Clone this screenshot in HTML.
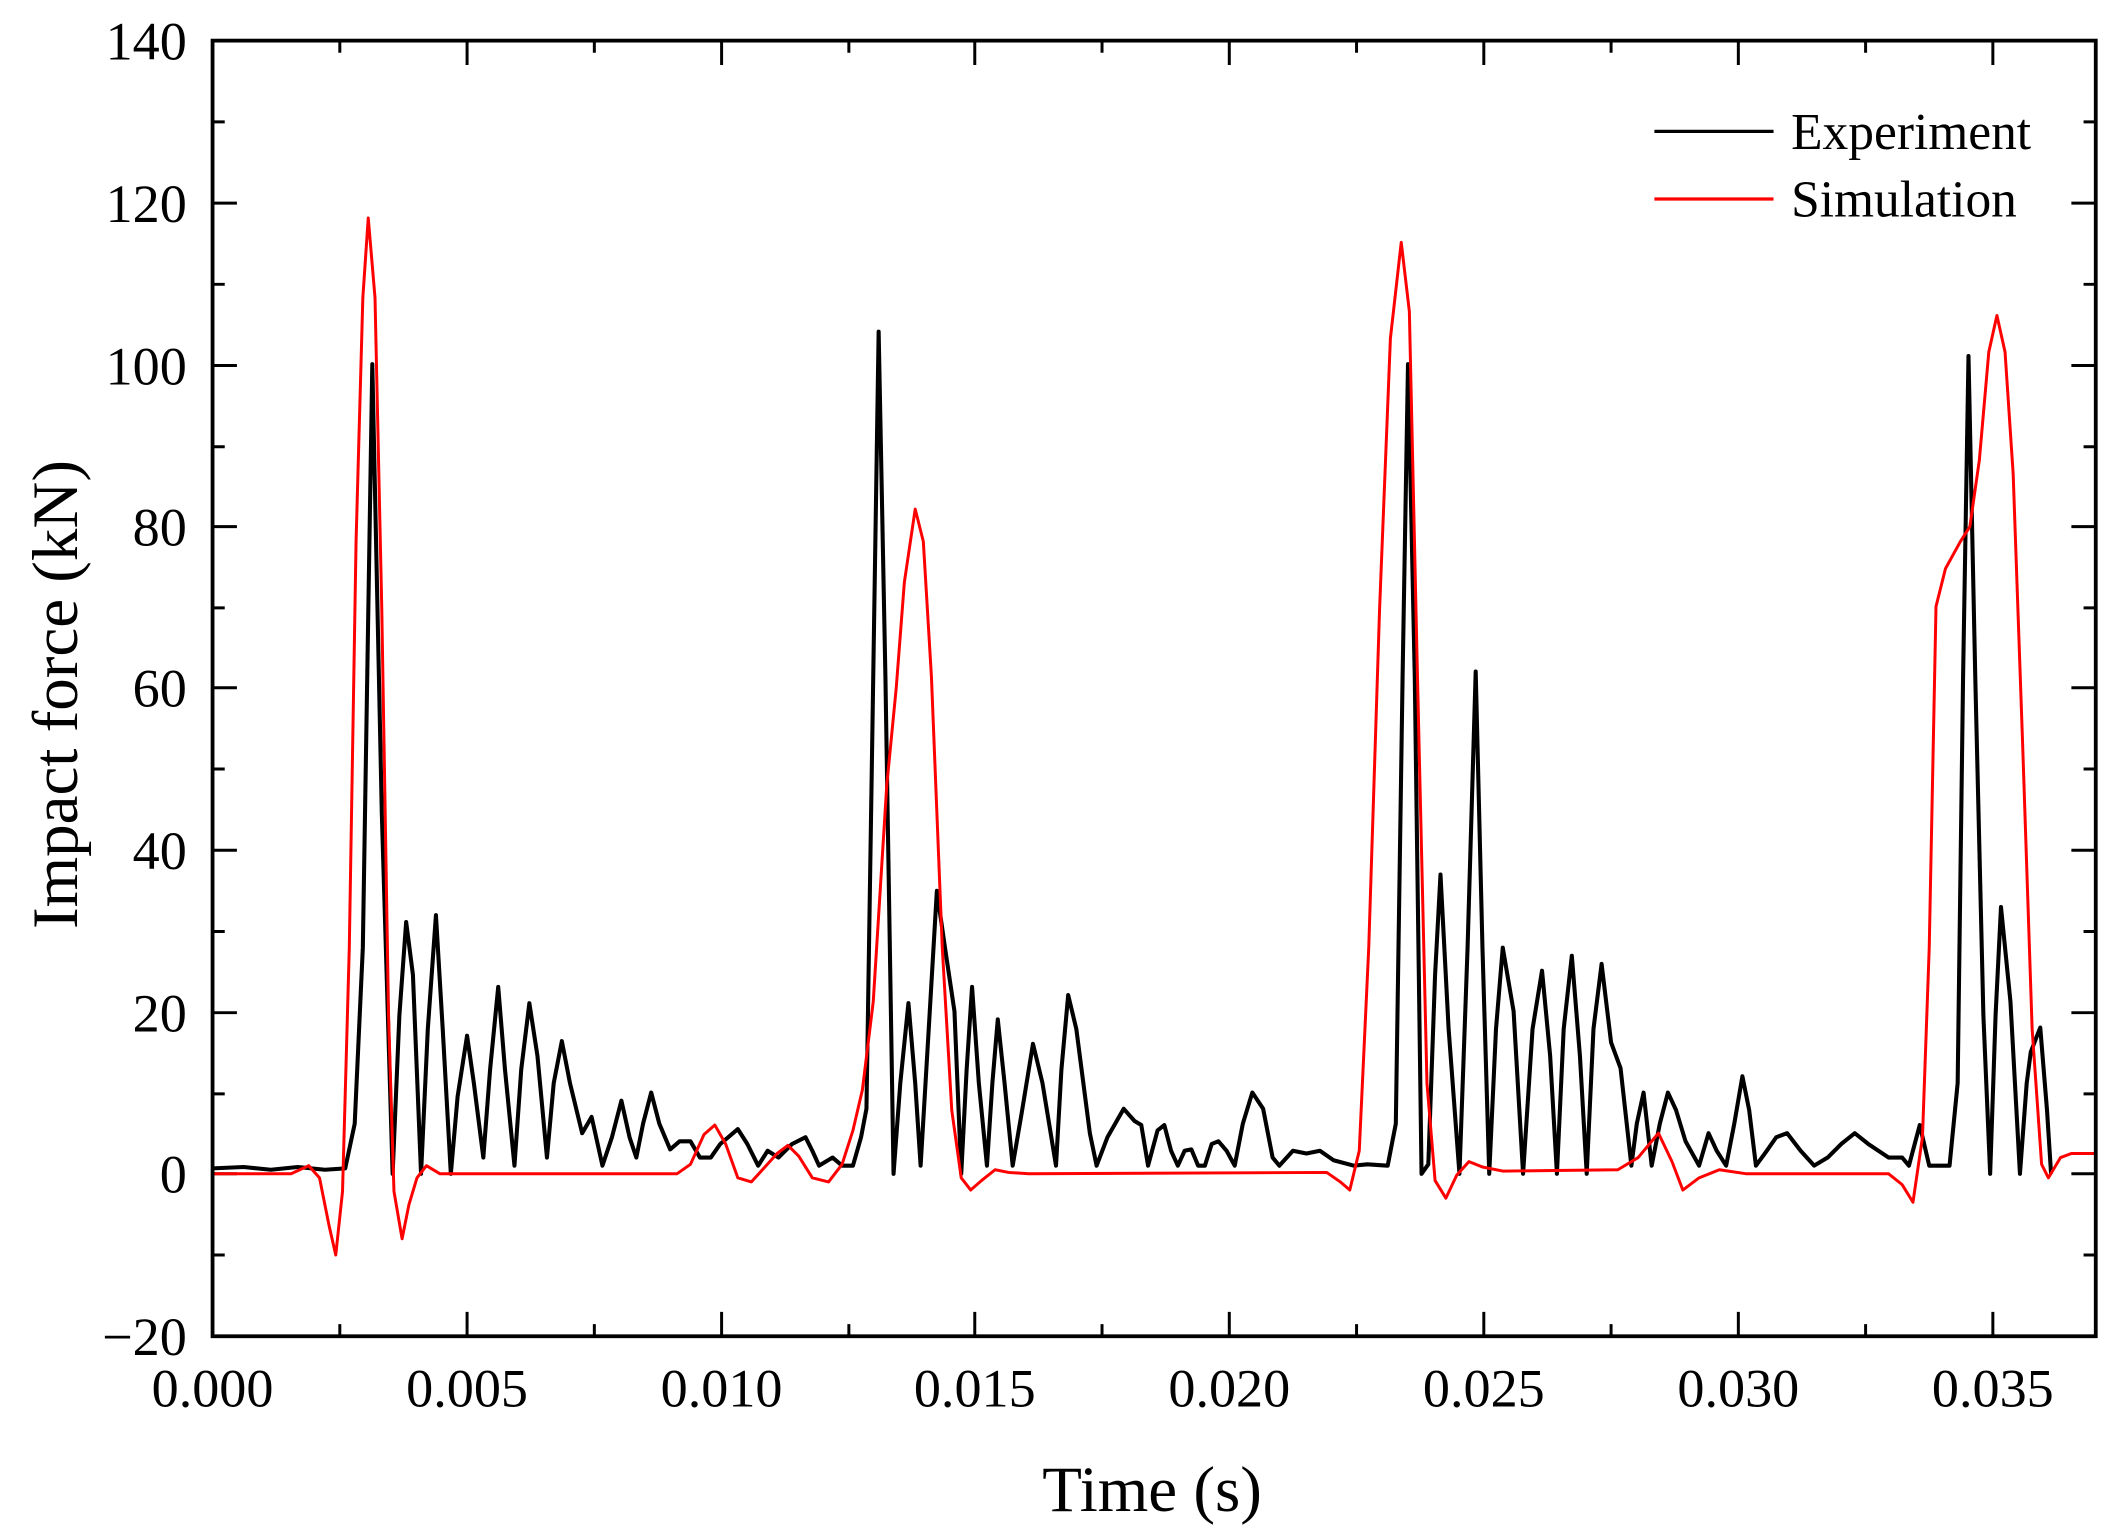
<!DOCTYPE html>
<html><head><meta charset="utf-8"><style>html,body{margin:0;padding:0;background:#fff}svg{display:block}</style></head>
<body>
<svg width="2112" height="1535" viewBox="0 0 1560 1133.8" xmlns="http://www.w3.org/2000/svg" font-family="'Liberation Serif',serif">
<g stroke="#000" stroke-width="2.2" fill="none">
<path d="M157,987v-18M345,987v-18M533,987v-18M720,987v-18M908,987v-18M1096,987v-18M1284,987v-18M1472,987v-18
M251,987v-9M439,987v-9M627,987v-9M814,987v-9M1002,987v-9M1190,987v-9M1378,987v-9
M345,30v18M533,30v18M720,30v18M908,30v18M1096,30v18M1284,30v18M1472,30v18
M251,30v9M439,30v9M627,30v9M814,30v9M1002,30v9M1190,30v9M1378,30v9"/>
<path d="M157,30h18M157,150h18M157,270h18M157,389h18M157,508h18M157,628h18M157,748h18M157,867h18M157,987h18
M157,90h9M157,210h9M157,330h9M157,449h9M157,568h9M157,688h9M157,808h9M157,927h9
M1548,150h-18M1548,270h-18M1548,389h-18M1548,508h-18M1548,628h-18M1548,748h-18M1548,867h-18
M1548,90h-9M1548,210h-9M1548,330h-9M1548,449h-9M1548,568h-9M1548,688h-9M1548,808h-9M1548,927h-9"/>
</g>
<polyline fill="none" stroke="#000" stroke-width="3" stroke-linejoin="round" points="157,863 180,862 200,864 220,862 240,864 255,863 262,830 268,700 275,269 282,600 290,867 295,750 300,681 305,720 311,867 316,760 322,676 327,760 333,867 338,810 345,765 350,800 357,855 362,790 368,729 373,790 380,861 385,790 391,741 397,780 404,855 409,800 415,769 421,800 430,837 437,825 445,861 452,840 459,813 465,840 470,855 475,830 481,807 487,830 495,849 502,843 510,843 517,855 525,855 532,845 545,834 552,845 560,861 567,850 575,855 585,845 595,840 600,850 605,861 615,855 622,861 630,861 636,840 640,819 645,500 649,245 654,500 660,867 665,800 671,741 676,800 680,861 686,760 692,658 698,700 705,747 710,867 714,790 718,729 723,800 729,861 733,800 737,753 742,800 748,861 755,820 763,771 770,800 780,861 784,790 789,735 795,760 805,837 810,861 818,840 830,819 838,828 843,831 848,861 855,835 860,831 865,850 870,861 875,850 880,849 885,861 890,861 895,845 900,843 906,850 912,861 918,830 925,807 933,819 940,855 945,861 955,850 965,852 975,850 985,857 1000,861 1010,860 1025,861 1031,830 1036,500 1040,269 1045,500 1050,867 1055,860 1060,720 1064,646 1070,760 1078,867 1084,700 1090,496 1095,700 1100,867 1105,760 1110,700 1118,747 1125,867 1132,760 1139,717 1145,780 1150,867 1155,760 1161,706 1167,780 1172,867 1177,760 1183,712 1190,770 1197,789 1205,861 1209,830 1214,807 1220,861 1226,830 1232,807 1238,820 1245,843 1255,861 1262,837 1268,850 1275,861 1281,830 1287,795 1292,820 1297,861 1305,850 1312,840 1320,837 1330,850 1340,861 1350,855 1360,845 1370,837 1380,845 1395,855 1405,855 1410,861 1418,831 1425,861 1440,861 1446,800 1450,500 1454,263 1459,500 1465,750 1470,867 1474,750 1478,670 1485,740 1492,867 1497,800 1500,777 1507,759 1512,820 1515,867"/>
<polyline fill="none" stroke="#f00" stroke-width="2.2" stroke-linejoin="round" points="157,867 215,867 228,861 236,870 243,905 248,927 253,880 258,700 263,400 268,220 272,161 277,220 282,450 287,750 291,880 297,915 302,890 308,870 315,861 325,867 500,867 510,860 520,838 528,831 536,845 545,870 555,873 565,862 574,852 582,846 590,854 600,870 612,873 622,860 630,835 637,805 645,740 655,580 662,508 668,430 676,376 682,400 688,500 696,700 703,820 710,870 717,879 725,872 735,864 745,866 760,867 980,866 990,873 997,879 1004,850 1011,700 1019,450 1027,250 1035,179 1041,230 1047,500 1054,800 1060,872 1068,885 1076,868 1085,858 1095,862 1110,865 1195,864 1210,855 1225,837 1235,858 1243,879 1255,870 1270,864 1290,867 1395,867 1405,875 1413,888 1420,840 1425,700 1430,448 1437,420 1448,400 1455,389 1462,340 1469,260 1475,233 1481,260 1487,350 1494,550 1501,760 1508,860 1513,870 1522,855 1530,852 1548,852"/>
<rect x="157" y="30" width="1391" height="957" fill="none" stroke="#000" stroke-width="2.8"/>
<line x1="1222" y1="97" x2="1310" y2="97" stroke="#000" stroke-width="2.4"/>
<line x1="1222" y1="147" x2="1310" y2="147" stroke="#f00" stroke-width="2.4"/>
<g font-size="38" fill="#000">
<text x="1323" y="110">Experiment</text>
<text x="1323" y="160">Simulation</text>
</g>
<g font-size="40" fill="#000" text-anchor="end">
<text x="138" y="44">140</text><text x="138" y="164">120</text><text x="138" y="284">100</text>
<text x="138" y="403">80</text><text x="138" y="522">60</text><text x="138" y="642">40</text>
<text x="138" y="762">20</text><text x="138" y="881">0</text><text x="138" y="1001">−20</text>
</g>
<g font-size="40" fill="#000" text-anchor="middle">
<text x="157" y="1039">0.000</text><text x="345" y="1039">0.005</text><text x="533" y="1039">0.010</text>
<text x="720" y="1039">0.015</text><text x="908" y="1039">0.020</text><text x="1096" y="1039">0.025</text>
<text x="1284" y="1039">0.030</text><text x="1472" y="1039">0.035</text>
<text x="851" y="1116" font-size="48">Time (s)</text>
<text transform="translate(57,513) rotate(-90)" font-size="48">Impact force (kN)</text>
</g>
</svg>
</body></html>
